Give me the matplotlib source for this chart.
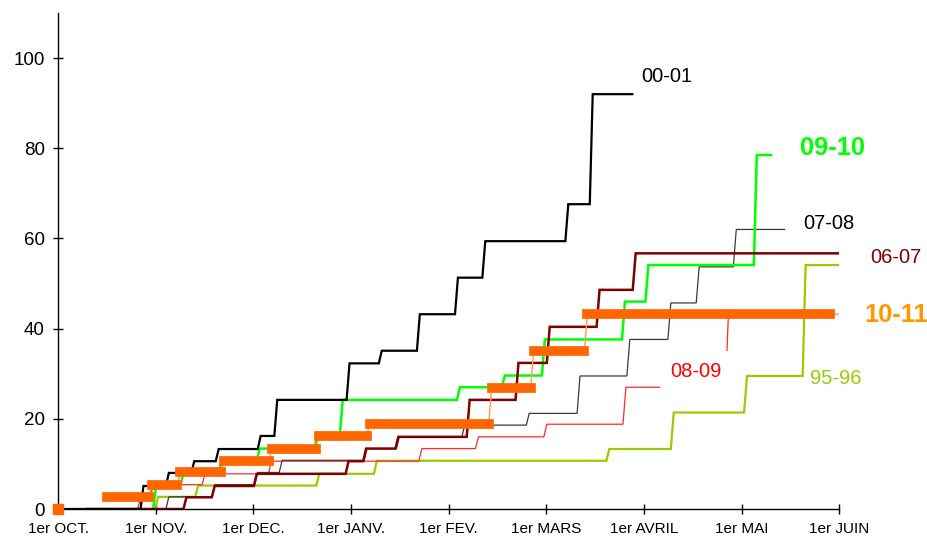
import matplotlib
matplotlib.use("Agg")
import matplotlib.pyplot as plt

plt.rcParams['font.family'] = ['Liberation Sans', 'DejaVu Sans']

# x in months since 1er OCT. (0..8), y cumulative values
month_labels = ["1er OCT.", "1er NOV.", "1er DEC.", "1er JANV.", "1er FEV.",
                "1er MARS", "1er AVRIL", "1er MAI", "1er JUIN"]
month_pos = [0, 1, 2, 3, 4, 5, 6, 7, 8]

# 00-01
s0001_start, s0001_end = 0.0, 5.88
s0001_x = [0.86, 1.12, 1.38, 1.63, 2.06, 2.23, 2.97, 3.30, 3.69, 4.08, 4.36, 5.21, 5.46]
s0001_y = [5.1, 8.0, 10.6, 13.3, 16.2, 24.2, 32.3, 35.1, 43.2, 51.3, 59.4, 67.6, 92.0]

# 09-10
s0910_start, s0910_end = 0.96, 7.30
s0910_x = [0.99, 1.27, 1.66, 2.05, 2.64, 2.90, 4.10, 4.56, 4.97, 5.79, 6.03, 7.14]
s0910_y = [5.4, 8.1, 10.7, 13.4, 16.2, 24.2, 27.0, 29.6, 37.6, 46.0, 54.1, 78.5]

# 07-08
s0708_start, s0708_end = 1.09, 7.44
s0708_x = [1.12, 1.59, 2.03, 2.28, 3.15, 3.48, 4.15, 4.81, 5.33, 5.84, 6.26, 6.55, 6.93]
s0708_y = [2.7, 5.4, 8.1, 10.8, 13.4, 16.0, 18.6, 21.2, 29.5, 37.6, 45.7, 53.7, 62.0]

# 06-07
s0607_start, s0607_end = 0.30, 8.0
s0607_x = [1.30, 1.59, 2.02, 2.96, 3.14, 3.47, 4.20, 4.70, 5.02, 5.53, 5.90]
s0607_y = [2.6, 5.1, 7.8, 10.6, 13.4, 16.0, 24.2, 32.4, 40.4, 48.6, 56.7]

# 08-09
s0809_start, s0809_end = 0.49, 6.87
s0809_x = [0.83, 0.96, 1.49, 2.17, 3.71, 4.29, 4.99, 5.80, 6.85]
s0809_y = [2.4, 5.4, 7.8, 10.6, 13.4, 16.0, 18.8, 27.0, 43.4]

# 95-96
s9596_start, s9596_end = 0.98, 8.0
s9596_x = [1.01, 1.42, 2.66, 3.25, 5.63, 6.29, 7.04, 7.64]
s9596_y = [2.7, 5.2, 7.8, 10.7, 13.3, 21.4, 29.5, 54.1]

# 10-11 (thick level bars)
s1011_starts = [0.50, 0.96, 1.25, 1.70, 2.19, 2.67, 3.19, 4.44, 4.87, 5.42]
s1011_levels = [2.7, 5.4, 8.1, 10.7, 13.4, 16.1, 18.8, 26.9, 35.0, 43.2]
s1011_bar_end = 7.90
s1011_end = 8.0

RISE = 0.03


def step_path(start, xs, ys, end):
    px, py = [start], [0.0]
    prev = 0.0
    for x, y in zip(xs, ys):
        px += [x - RISE / 2, x + RISE / 2]
        py += [prev, y]
        prev = y
    px.append(end)
    py.append(prev)
    return px, py


fig = plt.figure(figsize=(9.27, 5.39), dpi=100)
ax = fig.add_axes([58 / 927, 30 / 539, (839.3 - 58) / 927, (509 - 13) / 539])
ax.set_xlim(0, 8)
ax.set_ylim(0, 110)

series = [
    (s9596_start, s9596_x, s9596_y, s9596_end, '#99cc00', 1.6, 2),
    (s0809_start, s0809_x, s0809_y, s0809_end, '#ff2a2a', 0.9, 3),
    (s0708_start, s0708_x, s0708_y, s0708_end, '#3a3a3a', 0.9, 3.2),
    (s0910_start, s0910_x, s0910_y, s0910_end, '#00ff00', 1.8, 4),
    (s0607_start, s0607_x, s0607_y, s0607_end, '#800000', 1.8, 5),
    (s0001_start, s0001_x, s0001_y, s0001_end, '#000000', 1.6, 6),
]
for st, xs, ys, en, col, lw, z in series:
    px, py = step_path(st, xs, ys, en)
    ax.plot(px, py, color=col, lw=lw, zorder=z, solid_joinstyle='miter')

# 10-11 thin connectors
ends = [s - RISE for s in s1011_starts[1:]] + [s1011_bar_end]
cx, cy = [], []
for i, (s, v) in enumerate(zip(s1011_starts, s1011_levels)):
    cx += [s, ends[i]]
    cy += [v, v]
cx.append(s1011_end)
cy.append(s1011_levels[-1])
ax.plot(cx, cy, color='#ff9955', lw=1.0, zorder=7)
bars = ax.hlines(s1011_levels, s1011_starts, ends, colors='#ff6600', lw=7, zorder=8)
bars.set_capstyle('projecting')
ax.plot([0], [0], marker='s', ms=7, color='#ff6600', mec='#ff6600', clip_on=False, zorder=9)

# labels
lab_kw = dict(ha='left', va='center', clip_on=False)
ax.text(5.97, 96.0, "00-01", color='black', fontsize=14.5, **lab_kw)
ax.text(7.60, 80.0, "09-10", color='#00ff00', fontsize=18.3, fontweight='bold', **lab_kw)
ax.text(7.63, 63.4, "07-08", color='black', fontsize=14.5, **lab_kw)
ax.text(8.32, 55.7, "06-07", color='#800000', fontsize=14.5, **lab_kw)
ax.text(8.26, 43.0, "10-11", color='#ff9900', fontsize=18.3, fontweight='bold', **lab_kw)
ax.text(6.27, 30.6, "08-09", color='#ff0000', fontsize=14.5, zorder=3.5,
        bbox=dict(facecolor='white', edgecolor='none', boxstyle='square,pad=0.5'), **lab_kw)
ax.text(7.70, 29.0, "95-96", color='#99cc00', fontsize=14.5, **lab_kw)

for side in ['top', 'right']:
    ax.spines[side].set_visible(False)
for side in ['left', 'bottom']:
    ax.spines[side].set_linewidth(1.0)
    ax.spines[side].set_color('black')

ax.set_xticks(month_pos)
ax.set_xticklabels(month_labels)
ax.set_yticks([0, 20, 40, 60, 80, 100])
ax.tick_params(axis='both', direction='inout', length=7, width=1)
ax.tick_params(axis='x', pad=6, labelsize=11)
ax.tick_params(axis='y', pad=6, labelsize=13.5)

fig.savefig("out.png", dpi=100)
